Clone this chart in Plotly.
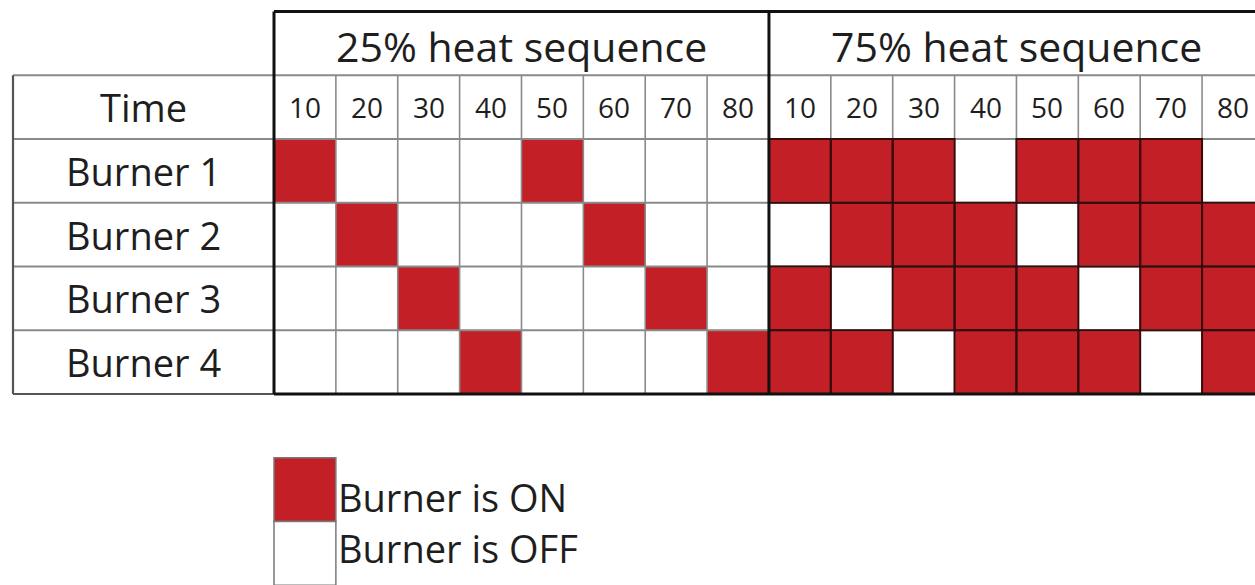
import plotly.graph_objects as go

# ---------------- data ----------------
groups = ["25% heat sequence", "75% heat sequence"]
times = [10, 20, 30, 40, 50, 60, 70, 80]
burners = ["Burner 1", "Burner 2", "Burner 3", "Burner 4"]
row_header = "Time"
# 1 = burner ON, 0 = burner OFF
seq25 = [
    [1, 0, 0, 0, 1, 0, 0, 0],
    [0, 1, 0, 0, 0, 1, 0, 0],
    [0, 0, 1, 0, 0, 0, 1, 0],
    [0, 0, 0, 1, 0, 0, 0, 1],
]
seq75 = [
    [1, 1, 1, 0, 1, 1, 1, 0],
    [0, 1, 1, 1, 0, 1, 1, 1],
    [1, 0, 1, 1, 1, 0, 1, 1],
    [1, 1, 0, 1, 1, 1, 0, 1],
]
legend_labels = ["Burner is ON", "Burner is OFF"]

# ---------------- style ----------------
RED = "#C21F27"
FONT = "Open Sans"
TXT = "#1e1e1e"
GRID = "#8a8a8a"
DARK = "#111111"
W, H = 1255, 585
X0, CW = 274, 61.87   # pixel of first data column left edge, column width
Y0, RH = 139, 63.75   # pixel of first burner row top edge, row height

ncol = len(times) * len(groups)
z = [r25 + r75 for r25, r75 in zip(seq25, seq75)]
xs = list(range(ncol))
ys = list(range(len(burners)))

fig = go.Figure()
fig.add_trace(go.Heatmap(
    x=xs, y=ys, z=z, zmin=0, zmax=1,
    colorscale=[[0, "white"], [1, RED]],
    showscale=False, hoverinfo="skip",
))

shapes = []
ann = []

lab_left = (13 - X0) / CW - 0.5
right = ncol - 0.5 + 1.0
top_grp = -2.5
top_time = -1.5
bottom = len(burners) - 0.5

# thin vertical lines between data columns
for c in range(1, ncol + 1):
    if c % len(times) == 0 and c < ncol:
        continue
    shapes.append(dict(type="line", x0=c - 0.5, x1=c - 0.5, y0=top_time, y1=bottom,
                       line=dict(color=GRID, width=1.6), layer="above"))
# horizontal lines
for yy in [top_time] + [r - 0.5 for r in range(len(burners))]:
    shapes.append(dict(type="line", x0=lab_left, x1=right, y0=yy, y1=yy,
                       line=dict(color=GRID, width=1.8), layer="above"))

# dark outlines around ON cells in 75% block
for r, row in enumerate(z):
    for c, v in enumerate(row):
        if v and c >= len(times):
            shapes.append(dict(type="rect", x0=c - 0.5, x1=c + 0.5, y0=r - 0.5, y1=r + 0.5,
                               line=dict(color="#3a0a0a", width=2), layer="above"))

# label column left border
shapes.append(dict(type="line", x0=lab_left, x1=lab_left, y0=top_time, y1=bottom,
                   line=dict(color="#555555", width=2.2)))
shapes.append(dict(type="line", x0=lab_left, x1=-0.5, y0=bottom, y1=bottom,
                   line=dict(color="#555555", width=2.2)))
# thick frame lines
shapes.append(dict(type="line", x0=-0.5, x1=right, y0=top_grp, y1=top_grp,
                   line=dict(color=DARK, width=3)))
shapes.append(dict(type="line", x0=-0.5, x1=right, y0=bottom, y1=bottom,
                   line=dict(color=DARK, width=3)))
for g in range(len(groups)):
    xx = g * len(times) - 0.5
    shapes.append(dict(type="line", x0=xx, x1=xx, y0=top_grp, y1=bottom,
                       line=dict(color=DARK, width=3)))

# group titles
for g, name in enumerate(groups):
    ann.append(dict(x=g * len(times) + (len(times) - 1) / 2, y=-1.96, text=name,
                    showarrow=False, font=dict(family=FONT, size=41, color=TXT)))
# time labels
for g in range(len(groups)):
    for i, t in enumerate(times):
        ann.append(dict(x=g * len(times) + i, y=-1.0, text=str(t), showarrow=False,
                        font=dict(family=FONT, size=28, color=TXT)))
# row labels
lab_center = (lab_left + (-0.5)) / 2
ann.append(dict(x=lab_center, y=-1.0, text=row_header, showarrow=False,
                font=dict(family=FONT, size=38, color=TXT)))
for r, b in enumerate(burners):
    ann.append(dict(x=lab_center, y=r, text=b, showarrow=False,
                    font=dict(family=FONT, size=38, color=TXT)))

# legend
leg_rows = [len(burners) + 1, len(burners) + 2]
leg_fill = [RED, "white"]
leg_text_y = [5.12, 5.92]
for lr, fc, lbl, ty in zip(leg_rows, leg_fill, legend_labels, leg_text_y):
    shapes.append(dict(type="rect", x0=-0.5, x1=0.5, y0=lr - 0.5, y1=lr + 0.5,
                       fillcolor=fc, line=dict(color="#7a7a7a", width=1.5)))
    ann.append(dict(x=0.5, y=ty, text=lbl, showarrow=False, xanchor="left",
                    font=dict(family=FONT, size=38, color=TXT)))

fig.update_layout(
    width=W, height=H, autosize=False,
    margin=dict(l=0, r=0, t=0, b=0),
    paper_bgcolor="white", plot_bgcolor="white",
    shapes=shapes, annotations=ann, showlegend=False,
    xaxis=dict(range=[(0 - X0) / CW - 0.5, (W - X0) / CW - 0.5], visible=False,
               showgrid=False, zeroline=False, fixedrange=True),
    yaxis=dict(range=[(H - Y0) / RH - 0.5, (0 - Y0) / RH - 0.5], visible=False,
               showgrid=False, zeroline=False, fixedrange=True),
)

fig.write_html("out.html", config={"displayModeBar": False},
               post_script="document.body.style.margin='0';document.body.style.overflow='hidden';")
